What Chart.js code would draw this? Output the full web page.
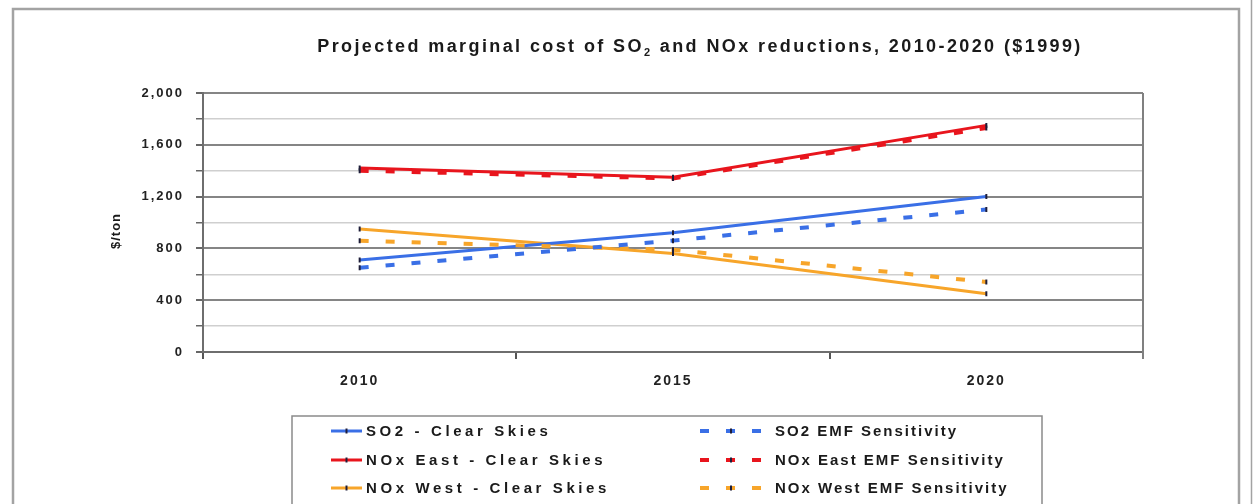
<!DOCTYPE html>
<html>
<head>
<meta charset="utf-8">
<script src="https://cdn.jsdelivr.net/npm/chart.js@4.4.1/dist/chart.umd.min.js"></script>
<style>
  html, body { margin: 0; padding: 0; background: #ffffff; }
  #wrap { position: relative; width: 1253px; height: 504px; }
  canvas { display: block; }
</style>
</head>
<body>
<div id="wrap"><canvas id="c" width="1253" height="504"></canvas></div>
<script>
// ---- data ----
const categories = ['2010', '2015', '2020'];
const so2Clear = [710, 920, 1200];
const noxEastClear = [1420, 1350, 1750];
const noxWestClear = [950, 760, 450];
const so2Emf = [650, 860, 1100];
const noxEastEmf = [1400, 1340, 1730];
const noxWestEmf = [860, 790, 540];
const seriesLabels = [
  'SO2 - Clear Skies', 'NOx East - Clear Skies', 'NOx West - Clear Skies',
  'SO2 EMF Sensitivity', 'NOx East EMF Sensitivity', 'NOx West EMF Sensitivity'
];
const yTicks = [0, 400, 800, 1200, 1600, 2000];
const titleParts = ['Projected marginal cost of SO', '2', ' and NOx reductions, 2010-2020 ($1999)'];
const yTitle = '$/ton';

// ---- styles ----
const BLUE = '#3a6fe6', RED = '#e8151d', ORANGE = '#f7a52a', MARK = '#1e1e3a';
const FONT = '"Liberation Sans", Arial, sans-serif';
const dash = [9, 17];

function ds(label, data, color, dashed) {
  return {
    label, data,
    borderColor: color, backgroundColor: color,
    borderWidth: dashed ? 4 : 3,
    borderDash: dashed ? dash : [],
    tension: 0, fill: false,
    pointStyle: 'line', rotation: 90,
    pointRadius: 2.5, pointBorderWidth: 2,
    pointBorderColor: MARK, pointBackgroundColor: MARK,
    pointHoverRadius: 2.5
  };
}

const datasets = [
  ds(seriesLabels[3], so2Emf, BLUE, true),
  ds(seriesLabels[4], noxEastEmf, RED, true),
  ds(seriesLabels[5], noxWestEmf, ORANGE, true),
  ds(seriesLabels[0], so2Clear, BLUE, false),
  ds(seriesLabels[1], noxEastClear, RED, false),
  ds(seriesLabels[2], noxWestClear, ORANGE, false)
];

const decor = {
  id: 'decor',
  beforeDraw(chart) {
    const ctx = chart.ctx;
    ctx.save();
    ctx.fillStyle = '#fff';
    ctx.fillRect(0, 0, chart.width, chart.height);
    ctx.strokeStyle = '#a3a3a3';
    ctx.lineWidth = 2.5;
    ctx.strokeRect(13, 9, 1226, 520);
    ctx.lineWidth = 1.5;
    ctx.beginPath(); ctx.moveTo(1251.5, 0); ctx.lineTo(1251.5, 504); ctx.stroke();
    ctx.restore();
    ctx.letterSpacing = '2px';
  },
  afterDraw(chart) {
    const ctx = chart.ctx;
    const a = chart.chartArea;
    ctx.save();
    ctx.letterSpacing = '0px';
    ctx.strokeStyle = '#808080';
    ctx.lineWidth = 2;
    ctx.beginPath(); ctx.moveTo(a.right, a.top); ctx.lineTo(a.right, a.bottom + 7); ctx.stroke();

    // title
    ctx.fillStyle = '#1a1a1a';
    ctx.textBaseline = 'middle';
    ctx.letterSpacing = '2.4px';
    const big = 'bold 18px ' + FONT, small = 'bold 11px ' + FONT;
    ctx.font = big; const w0 = ctx.measureText(titleParts[0]).width;
    ctx.font = small; const w1 = ctx.measureText(titleParts[1]).width;
    ctx.font = big; const w2 = ctx.measureText(titleParts[2]).width;
    let x = 700 - (w0 + w1 + w2) / 2;
    ctx.textAlign = 'left';
    ctx.font = big; ctx.fillText(titleParts[0], x, 47); x += w0;
    ctx.font = small; ctx.fillText(titleParts[1], x, 53); x += w1;
    ctx.font = big; ctx.fillText(titleParts[2], x, 47);

    // y title
    ctx.save();
    ctx.translate(116, 231);
    ctx.rotate(-Math.PI / 2);
    ctx.textAlign = 'center';
    ctx.font = 'bold 13px ' + FONT;
    ctx.letterSpacing = '1px';
    ctx.fillText(yTitle, 0, 0);
    ctx.restore();

    // legend box
    ctx.strokeStyle = '#8a8a8a';
    ctx.lineWidth = 1.5;
    ctx.strokeRect(292, 416, 750, 120);

    // legend items
    const rows = [431, 460, 488];
    ctx.font = 'bold 15px ' + FONT;
    ctx.textAlign = 'left';
    ctx.textBaseline = 'middle';
    const order = [3, 4, 5, 0, 1, 2];
    order.forEach((di, k) => {
      const d = chart.data.datasets[di];
      const col = k < 3 ? 0 : 1;
      const y = rows[k % 3];
      const sx0 = col === 0 ? 331 : 700;
      const sx1 = col === 0 ? 362 : 762;
      ctx.save();
      ctx.strokeStyle = d.borderColor;
      ctx.lineWidth = d.borderWidth;
      ctx.setLineDash(d.borderDash);
      ctx.beginPath(); ctx.moveTo(sx0, y); ctx.lineTo(sx1, y); ctx.stroke();
      ctx.setLineDash([]);
      ctx.strokeStyle = MARK; ctx.lineWidth = 2;
      const mx = col === 0 ? (sx0 + sx1) / 2 : 731;
      ctx.beginPath(); ctx.moveTo(mx, y - 2.5); ctx.lineTo(mx, y + 2.5); ctx.stroke();
      ctx.restore();
      ctx.fillStyle = '#1a1a1a';
      ctx.letterSpacing = col === 0 ? '3.6px' : '2px';
      ctx.fillText(d.label, col === 0 ? 366 : 775, y + 1);
    });
    ctx.restore();
  }
};

new Chart(document.getElementById('c'), {
  type: 'line',
  data: { labels: categories, datasets },
  options: {
    responsive: false,
    animation: false,
    events: [],
    layout: { padding: { top: 93, right: 110, bottom: 112, left: 0 } },
    plugins: { legend: { display: false }, title: { display: false }, tooltip: { enabled: false } },
    scales: {
      x: {
        offset: true,
        afterFit(s) { s.height = 40; },
        grid: { offset: true, drawOnChartArea: false, tickLength: 7, color: '#555', lineWidth: 2 },
        border: { color: '#6e6e6e', width: 2 },
        ticks: { color: '#222', font: { family: FONT, size: 14, weight: 'bold' }, padding: 14, maxRotation: 0 }
      },
      y: {
        min: 0, max: 2000,
        afterFit(s) { s.width = 203; },
        afterBuildTicks(s) {
          s.ticks = [];
          for (let v = 0; v <= 2000; v += 200) s.ticks.push({ value: v });
        },
        grid: {
          color: c => (c.tick && c.tick.value % 400 === 0) ? '#858585' : '#cfcfcf',
          lineWidth: c => (c.tick && c.tick.value % 400 === 0) ? 2 : 1.5,
          tickColor: '#666',
          tickLength: 7
        },
        border: { color: '#6e6e6e', width: 2 },
        ticks: {
          color: '#222',
          font: { family: FONT, size: 13, weight: 'bold' },
          padding: 12,
          callback: v => yTicks.includes(v) ? v.toLocaleString('en-US') : ''
        }
      }
    }
  },
  plugins: [decor]
});
</script>
</body>
</html>
